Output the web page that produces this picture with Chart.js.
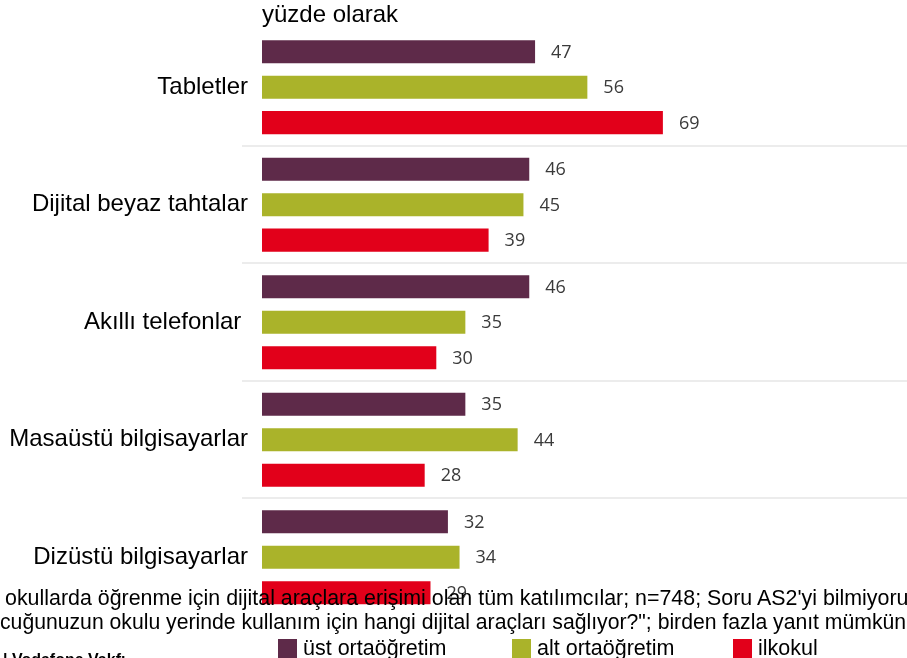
<!DOCTYPE html>
<html lang="tr">
<head>
<meta charset="utf-8">
<title>Dijital araçlar – yüzde olarak</title>
<script src="https://cdn.jsdelivr.net/npm/chart.js@4.4.1/dist/chart.umd.min.js"></script>
<style>
  html, body { margin: 0; padding: 0; background: #fff; overflow: hidden; }
  #wrap { position: relative; width: 907px; height: 658px; font-family: "Liberation Sans", Arial, sans-serif; color: #000; }
  #chart { position: absolute; left: 0; top: 0; }
  .txt { position: absolute; white-space: nowrap; }
  #unit { left: 262px; top: 0px; font-size: 24px; line-height: 28px; }
  .note { font-size: 21.2px; line-height: 23px; }
  #legend { position: absolute; top: 636px; left: 0; width: 907px; height: 22px; font-size: 21.5px; }
  .leg { position: absolute; top: 0; display: flex; align-items: center; }
  .leg i { display: inline-block; width: 19px; height: 19px; margin-right: 6px; }
  #src { left: 3px; top: 651px; font-size: 16px; font-weight: bold; }
</style>
</head>
<body>
<div id="wrap">
  <canvas id="chart" width="907" height="658"></canvas>
  <div class="txt" id="unit">yüzde olarak</div>
  <div class="txt note" style="top:587px; left:5px; font-size:21.4px">okullarda öğrenme için dijital araçlara erişimi olan tüm katılımcılar; n=748; Soru AS2'yi bilmiyoru</div>
  <div class="txt note" style="top:610px; left:0px">cuğunuzun okulu yerinde kullanım için hangi dijital araçları sağlıyor?"; birden fazla yanıt mümkün</div>
  <div id="legend"></div>
  <div class="txt" id="src">| Vodafone Vakfı</div>
</div>

<script>
// ---- data -------------------------------------------------------------------
const categories = [
  "Tabletler",
  "Dijital beyaz tahtalar",
  "Akıllı telefonlar ",
  "Masaüstü bilgisayarlar",
  "Dizüstü bilgisayarlar"
];
const seriesNames  = ["üst ortaöğretim", "alt ortaöğretim", "ilkokul"];
const ustOrta      = [47, 46, 46, 35, 32];
const altOrta      = [56, 45, 35, 44, 34];
const ilkokul      = [69, 39, 30, 28, 29];
const seriesColors = ["#5e2a49", "#aab32a", "#e2001a"];

// ---- html legend (sits under the footnote, like the original) ----------------
const legendX = [278, 512, 733];
const legendEl = document.getElementById("legend");
seriesNames.forEach((name, i) => {
  const item = document.createElement("div");
  item.className = "leg";
  item.style.left = legendX[i] + "px";
  item.innerHTML = `<i style="background:${seriesColors[i]}"></i><span>${name}</span>`;
  legendEl.appendChild(item);
});

// ---- plugins ----------------------------------------------------------------
// light separators between category groups
const separators = {
  id: "separators",
  beforeDatasetsDraw(chart) {
    const y = chart.scales.y, ctx = chart.ctx;
    ctx.save();
    ctx.strokeStyle = "#ececec";
    ctx.lineWidth = 2;
    for (let i = 1; i < categories.length; i++) {
      const py = Math.round((y.getPixelForValue(i - 1) + y.getPixelForValue(i)) / 2);
      ctx.beginPath();
      ctx.moveTo(chart.chartArea.left - 20, py);
      ctx.lineTo(chart.width, py);
      ctx.stroke();
    }
    ctx.restore();
  }
};

// value labels right of each bar
const valueLabels = {
  id: "valueLabels",
  afterDatasetsDraw(chart) {
    const ctx = chart.ctx;
    ctx.save();
    ctx.font = '18px "Open Sans", sans-serif';
    ctx.fillStyle = "#3a3a3a";
    ctx.textAlign = "left";
    ctx.textBaseline = "middle";
    chart.data.datasets.forEach((ds, di) => {
      chart.getDatasetMeta(di).data.forEach((bar, i) => {
        ctx.fillText(ds.data[i], bar.x + 16, bar.y + 1);
      });
    });
    ctx.restore();
  }
};

// ---- chart ------------------------------------------------------------------
const ctx = document.getElementById("chart").getContext("2d");
new Chart(ctx, {
  type: "bar",
  data: {
    labels: categories,
    datasets: [ustOrta, altOrta, ilkokul].map((vals, i) => ({
      label: seriesNames[i],
      data: vals,
      backgroundColor: seriesColors[i],
      borderWidth: 0,
      categoryPercentage: 0.905,
      barPercentage: 0.65
    }))
  },
  options: {
    indexAxis: "y",
    responsive: false,
    animation: false,
    layout: { padding: { top: 27.6, bottom: 42, left: 0, right: 64 } },
    scales: {
      x: { display: false, min: 0, max: 100 },
      y: {
        grid: { display: false, drawTicks: false },
        border: { display: false },
        ticks: {
          padding: 14,
          color: "#000",
          font: { family: '"Liberation Sans", Arial, sans-serif', size: 24 }
        },
        afterFit(scale) { scale.width = 262; }
      }
    },
    plugins: {
      legend: { display: false },
      tooltip: { enabled: false }
    }
  },
  plugins: [separators, valueLabels]
});
</script>
</body>
</html>
